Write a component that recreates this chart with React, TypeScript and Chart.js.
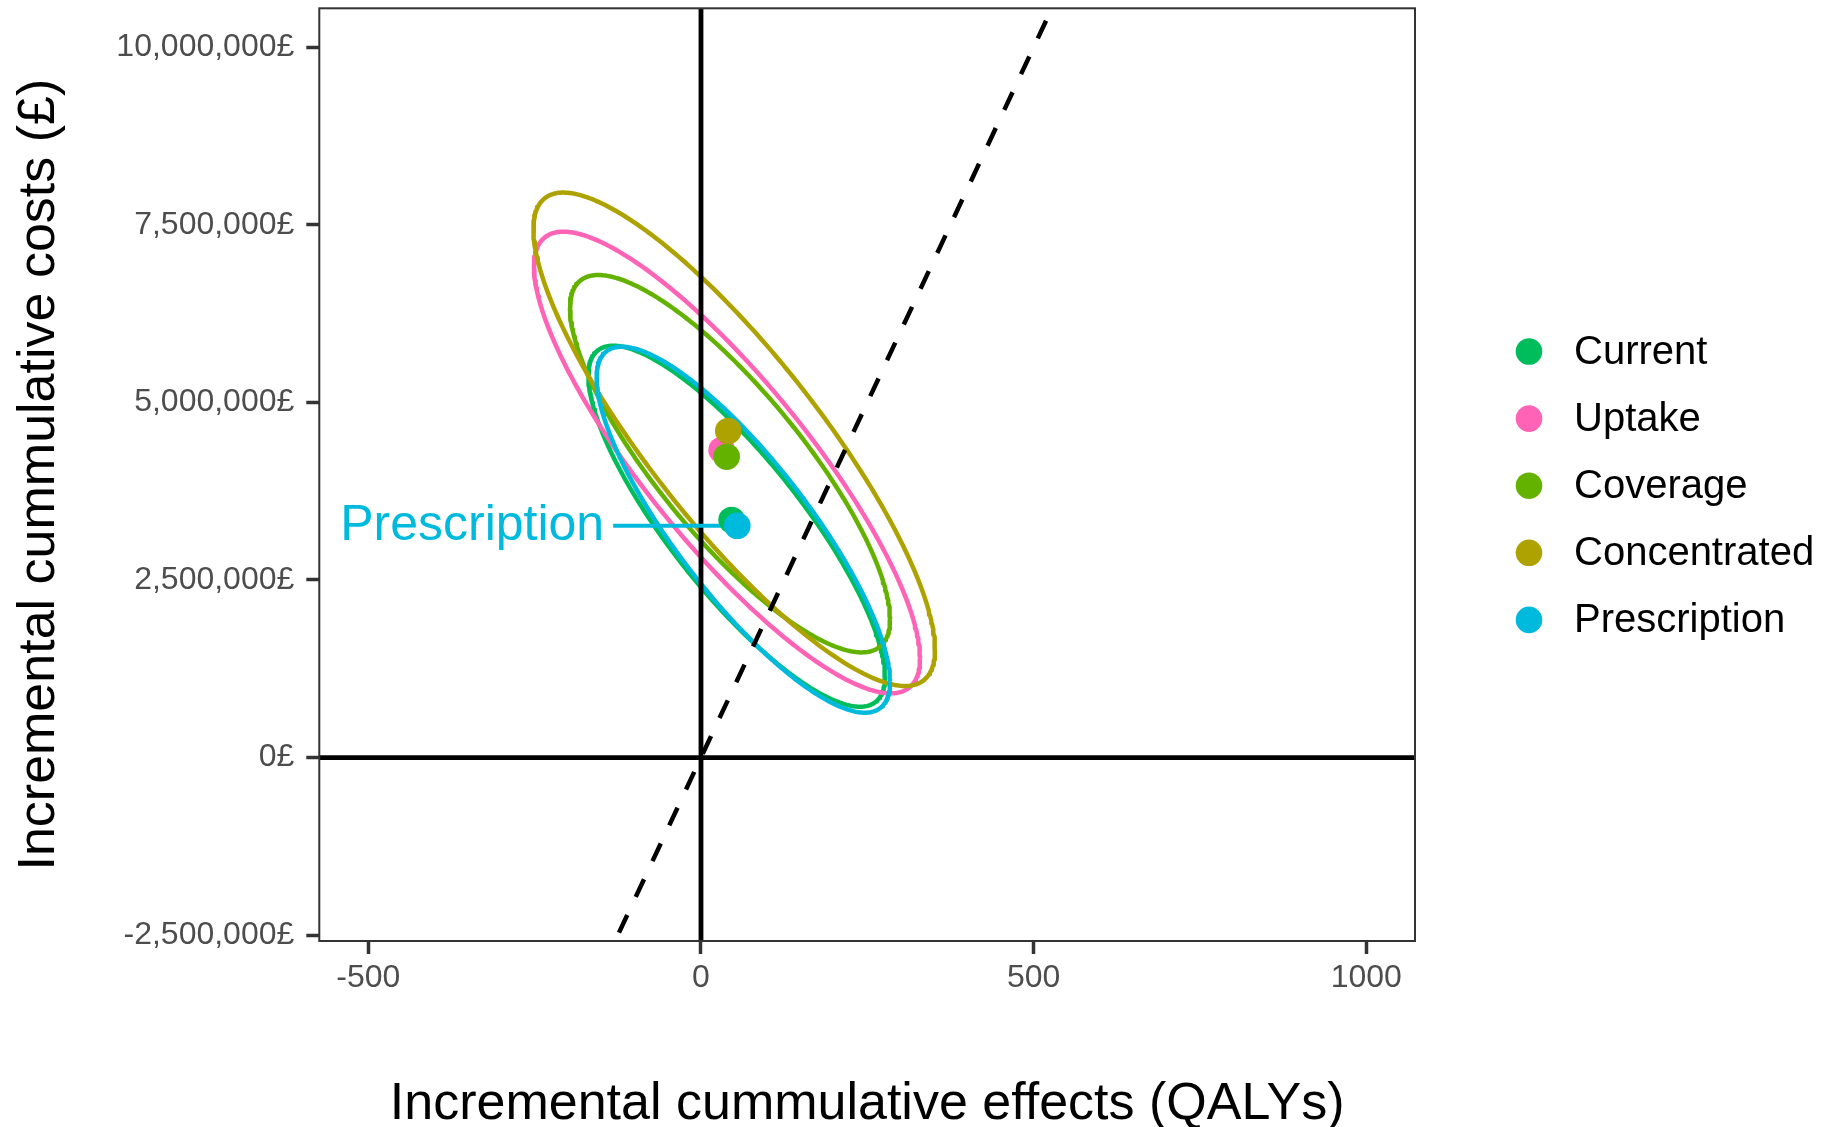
import React, { useEffect, useRef } from 'react';
import { Chart, registerables } from 'chart.js';

Chart.register(...registerables);

// ---------------- data ----------------
const SCENARIOS = ['Current', 'Uptake', 'Coverage', 'Concentrated', 'Prescription'];
const COLORS = ['#00BD5C', '#FF63B6', '#64B200', '#AEA200', '#00BADE'];

// mean incremental effects (QALYs) and costs (£) per scenario
const MEAN_QALY = [46, 31, 38.6, 41, 54.6];
const MEAN_COST = [3345000, 4330000, 4236000, 4598000, 3264000];

// confidence ellipse parameters
const ELLIPSE_CENTER_QALY = [53.6, 39.1, 43.6, 49.9, 63.6];
const ELLIPSE_CENTER_COST = [3257000, 4154000, 4137000, 4481000, 3208000];
const ELLIPSE_HALF_QALY = [222.9, 290.1, 240.5, 301.8, 220.5];
const ELLIPSE_HALF_COST = [2541000, 3249000, 2656000, 3473000, 2576000];
const ELLIPSE_RHO = [-0.832, -0.848, -0.823, -0.851, -0.829];

// willingness-to-pay threshold (£ per QALY)
const WTP = 20000;

const X_TICKS = [-500, 0, 500, 1000];
const Y_TICKS = [-2500000, 0, 2500000, 5000000, 7500000, 10000000];
const X_MIN = -573.7;
const X_MAX = 1073.2;
const Y_MIN = -2582000;
const Y_MAX = 10548000;

// repelled label
const LABEL_INDEX = 4;
const LABEL_TEXT = 'Prescription';
const LABEL_ANCHOR_QALY = -132;

const X_TITLE = 'Incremental cummulative effects (QALYs)';
const Y_TITLE = 'Incremental cummulative costs (£)';

const FONT = '"Liberation Sans", Arial, Helvetica, sans-serif';

function ellipsePoints(i: number) {
  const pts: { x: number; y: number }[] = [];
  const phi = Math.acos(ELLIPSE_RHO[i]);
  const N = 360;
  for (let k = 0; k <= N; k++) {
    const t = (2 * Math.PI * k) / N;
    pts.push({
      x: ELLIPSE_CENTER_QALY[i] + ELLIPSE_HALF_QALY[i] * Math.cos(t),
      y: ELLIPSE_CENTER_COST[i] + ELLIPSE_HALF_COST[i] * Math.cos(t - phi),
    });
  }
  return pts;
}

const overlayPlugin = {
  id: 'overlay',
  afterDatasetsDraw(chart: any) {
    const { ctx, chartArea, scales } = chart;
    ctx.save();
    // label text
    ctx.font = `50px ${FONT}`;
    ctx.fillStyle = COLORS[LABEL_INDEX];
    ctx.textAlign = 'right';
    ctx.textBaseline = 'middle';
    ctx.fillText(
      LABEL_TEXT,
      scales.x.getPixelForValue(LABEL_ANCHOR_QALY) - 9,
      scales.y.getPixelForValue(MEAN_COST[LABEL_INDEX]) + 0.5
    );
    // panel border
    ctx.strokeStyle = '#333333';
    ctx.lineWidth = 2;
    ctx.strokeRect(chartArea.left, chartArea.top, chartArea.width, chartArea.height);
    ctx.restore();
  },
  afterDraw(chart: any) {
    const { ctx } = chart;
    ctx.save();
    ctx.font = `40px ${FONT}`;
    ctx.textAlign = 'left';
    ctx.textBaseline = 'middle';
    SCENARIOS.forEach((name, i) => {
      const cy = 351.5 + i * 67.1;
      ctx.beginPath();
      ctx.fillStyle = COLORS[i];
      ctx.arc(1529, cy, 13.3, 0, Math.PI * 2);
      ctx.fill();
      ctx.fillStyle = '#000000';
      ctx.fillText(name, 1574, cy + 1.5);
    });
    ctx.restore();
  },
};

export default function App() {
  const canvasRef = useRef<HTMLCanvasElement | null>(null);

  useEffect(() => {
    if (!canvasRef.current) return;

    const ellipseSets = SCENARIOS.map((name, i) => ({
      label: name + ' ellipse',
      data: ellipsePoints(i),
      showLine: true,
      fill: false,
      borderColor: COLORS[i],
      borderWidth: 4.5,
      pointRadius: 0,
      tension: 0,
      borderJoinStyle: 'round',
      order: 30 + (SCENARIOS.length - 1 - i),
    }));

    const refSets = [
      {
        label: 'vline',
        data: [{ x: 0, y: Y_MIN }, { x: 0, y: Y_MAX }],
        showLine: true,
        borderColor: '#000000',
        borderWidth: 4.8,
        pointRadius: 0,
        order: 20,
      },
      {
        label: 'hline',
        data: [{ x: X_MIN, y: 0 }, { x: X_MAX, y: 0 }],
        showLine: true,
        borderColor: '#000000',
        borderWidth: 4.8,
        pointRadius: 0,
        order: 20,
      },
      {
        label: 'wtp',
        data: [{ x: Y_MAX / WTP, y: Y_MAX }, { x: Y_MIN / WTP, y: Y_MIN }],
        showLine: true,
        borderColor: '#000000',
        borderWidth: 4.5,
        borderDash: [19.5, 20],
        borderDashOffset: 25.8,
        borderCapStyle: 'butt',
        pointRadius: 0,
        order: 20,
      },
    ];

    const labelSegment = {
      label: 'label segment',
      data: [
        { x: LABEL_ANCHOR_QALY, y: MEAN_COST[LABEL_INDEX] },
        { x: MEAN_QALY[LABEL_INDEX], y: MEAN_COST[LABEL_INDEX] },
      ],
      showLine: true,
      borderColor: COLORS[LABEL_INDEX],
      borderWidth: 4,
      pointRadius: 0,
      order: 15,
    };

    const pointSets = SCENARIOS.map((name, i) => ({
      label: name,
      data: [{ x: MEAN_QALY[i], y: MEAN_COST[i] }],
      showLine: false,
      pointRadius: 13.3,
      pointBorderWidth: 0,
      pointBackgroundColor: COLORS[i],
      borderColor: COLORS[i],
      order: 10 + (SCENARIOS.length - 1 - i),
    }));

    const chart = new Chart(canvasRef.current, {
      type: 'scatter',
      data: { datasets: [...ellipseSets, ...refSets, labelSegment, ...pointSets] as any },
      options: {
        responsive: false,
        animation: false,
        events: [],
        devicePixelRatio: 1,
        layout: { autoPadding: false, padding: { left: 0, top: 8.3, right: 419, bottom: 0 } },
        plugins: {
          legend: { display: false },
          tooltip: { enabled: false },
        },
        scales: {
          x: {
            type: 'linear',
            min: X_MIN,
            max: X_MAX,
            afterBuildTicks: (scale: any) => {
              scale.ticks = X_TICKS.map((v) => ({ value: v }));
            },
            afterFit: (scale: any) => {
              scale.height = 186;
              scale.paddingLeft = 0;
              scale.paddingRight = 0;
            },
            grid: {
              drawOnChartArea: false,
              drawTicks: true,
              tickLength: 13,
              tickWidth: 3.5,
              tickColor: '#333333',
            },
            border: { display: false },
            ticks: {
              color: '#4D4D4D',
              font: { family: FONT, size: 32, lineHeight: 1 },
              padding: 8,
              maxRotation: 0,
              autoSkip: false,
              callback: (v: any) => String(v),
            },
            title: {
              display: true,
              text: X_TITLE,
              color: '#000000',
              font: { family: FONT, size: 52, lineHeight: 0.87 },
              padding: 0,
            },
          },
          y: {
            type: 'linear',
            min: Y_MIN,
            max: Y_MAX,
            afterBuildTicks: (scale: any) => {
              scale.ticks = Y_TICKS.map((v) => ({ value: v }));
            },
            afterFit: (scale: any) => {
              scale.width = 319.3;
              scale.paddingTop = 0;
              scale.paddingBottom = 0;
            },
            grid: {
              drawOnChartArea: false,
              drawTicks: true,
              tickLength: 13,
              tickWidth: 3.5,
              tickColor: '#333333',
            },
            border: { display: false },
            ticks: {
              color: '#4D4D4D',
              font: { family: FONT, size: 32, lineHeight: 1 },
              padding: 12,
              autoSkip: false,
              callback: (v: any) => Number(v).toLocaleString('en-US') + '£',
            },
            title: {
              display: true,
              text: Y_TITLE,
              color: '#000000',
              font: { family: FONT, size: 52, lineHeight: 1 },
              padding: { top: 14, bottom: 0 },
            },
          },
        },
      } as any,
      plugins: [overlayPlugin],
    });

    return () => chart.destroy();
  }, []);

  return (
    <div style={{ position: 'fixed', left: 0, top: 0, width: 1834, height: 1127, background: '#ffffff' }}>
      <canvas ref={canvasRef} width={1834} height={1127} style={{ display: 'block', width: 1834, height: 1127 }} />
    </div>
  );
}
